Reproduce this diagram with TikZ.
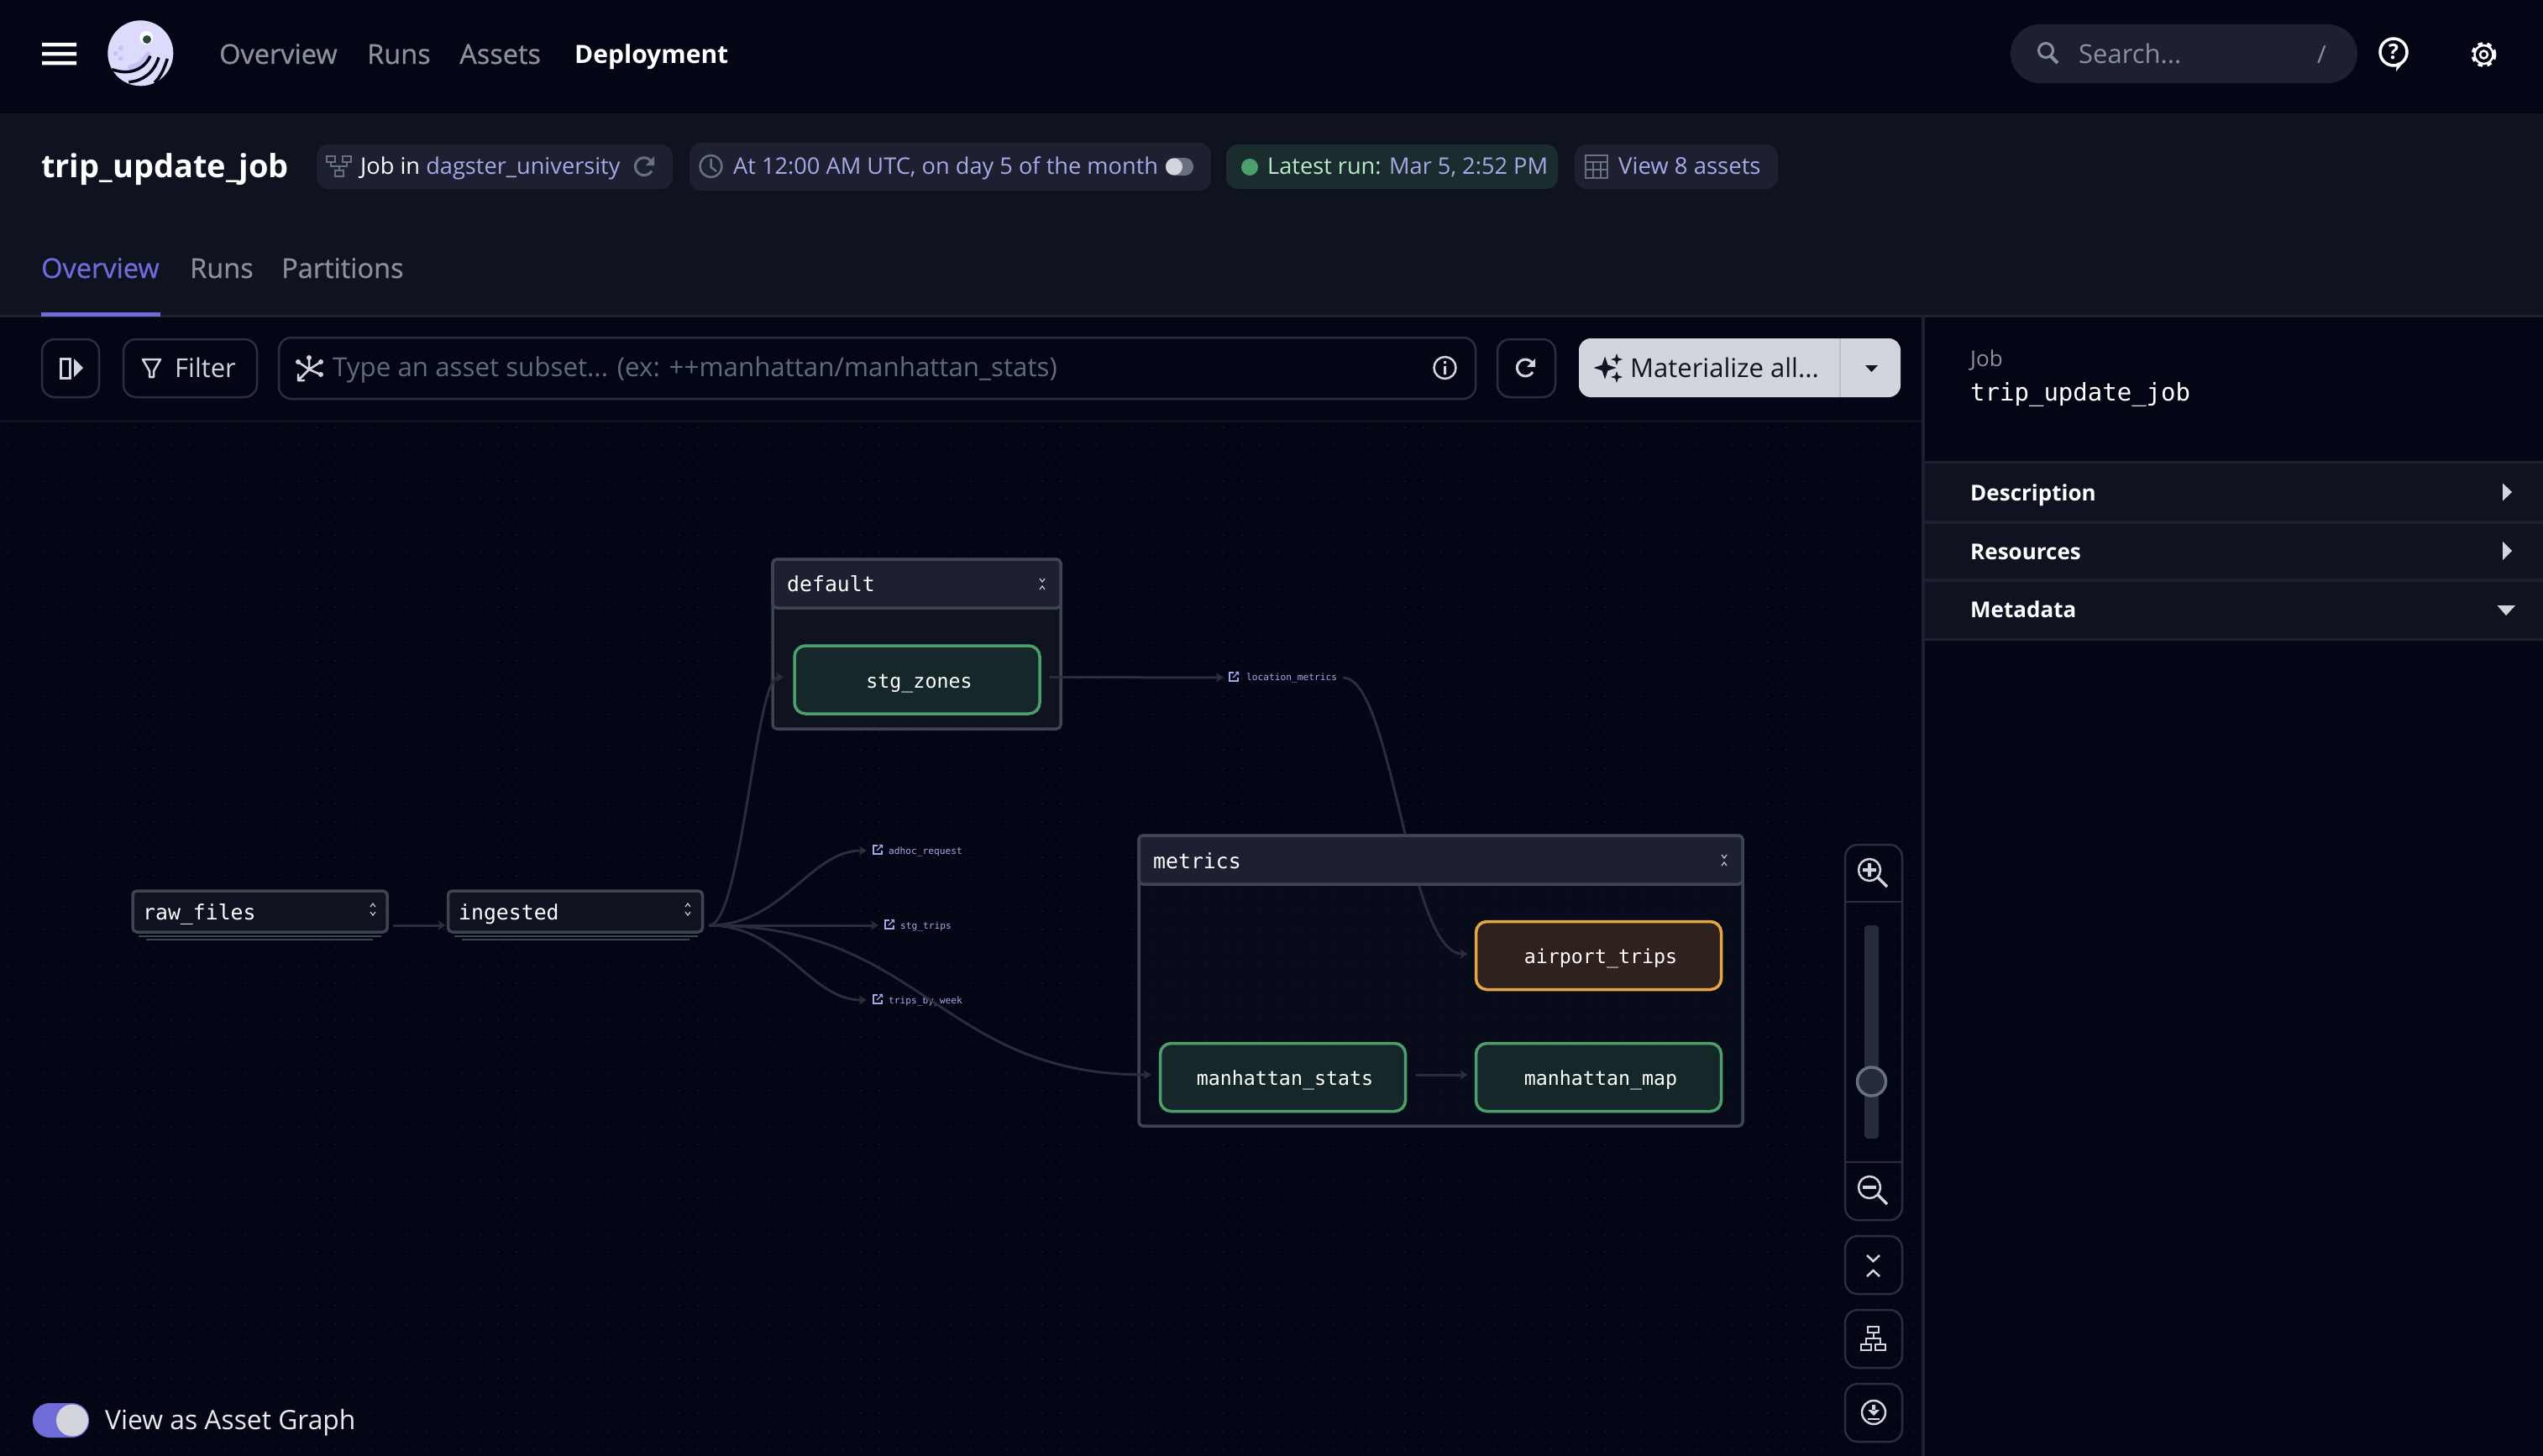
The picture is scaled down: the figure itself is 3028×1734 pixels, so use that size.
\documentclass[tikz,border=0pt]{standalone}
\usepackage{fontspec}
\usetikzlibrary{arrows.meta}
\newfontfamily\uifont{Open Sans}
\newfontfamily\uimedium[FakeBold=0.8]{Open Sans}
\newfontfamily\uibold{Open Sans}
\newfontfamily\monofont{DejaVu Sans Mono}
\newcommand{\px}[1]{\fontsize{#1pt}{#1pt}\selectfont}
\definecolor{pagebg}{HTML}{030615}
\definecolor{headbg}{HTML}{0F1320}
\definecolor{pillbg}{HTML}{1C2030}
\definecolor{greenbg}{HTML}{1B2C2E}
\definecolor{linecol}{HTML}{2B2F3D}
\definecolor{boxline}{HTML}{3E4452}
\definecolor{edgecol}{HTML}{2A2D3B}
\definecolor{griddot}{HTML}{10142A}
\definecolor{lilac}{HTML}{A9A8E6}
\definecolor{mintcol}{HTML}{B9EBC8}
\definecolor{navgrey}{HTML}{8A909C}
\definecolor{hintgrey}{HTML}{626A79}
\definecolor{icongrey}{HTML}{697181}
\definecolor{paper}{HTML}{D2D5DC}
\definecolor{inkdark}{HTML}{111522}
\definecolor{accent}{HTML}{6F6BD8}
\definecolor{okline}{HTML}{4E9F6E}
\definecolor{okfill}{HTML}{16272A}
\definecolor{warnline}{HTML}{E4A646}
\definecolor{warnfill}{HTML}{2E211E}
\definecolor{logolight}{HTML}{DCDBFB}
\definecolor{logomid}{HTML}{C5C3F5}
\tikzset{
  uitext/.style={anchor=base west,inner sep=0pt,font=\uifont\px{#1}},
  navtext/.style={anchor=base west,inner sep=0pt,font=\uimedium\px{#1}},
  boldtext/.style={anchor=base west,inner sep=0pt,text=white,font=\uibold\bfseries\px{#1}},
  monotext/.style={anchor=base west,inner sep=0pt,text=white,font=\monofont\px{#1}},
  pill/.style={fill=#1,rounded corners=14pt},
  toolbtn/.style={draw=linecol,line width=2.5pt,rounded corners=15pt},
  iconline/.style={draw=#1,line width=2.5pt,line cap=round,line join=round},
  asset/.style={draw=#1,line width=3.5pt,rounded corners=13pt,minimum width=292pt,minimum height=81pt,
    text=white,font=\monofont\px{23.3},text height=22pt,text depth=3pt,inner sep=0pt,
    execute at begin node=\hspace*{5pt}},
  fresh/.style={asset=okline,fill=okfill},
  stale/.style={asset=warnline,fill=warnfill},
  groupbody/.style={draw=boxline,line width=3.5pt,rounded corners=5pt,fill=headbg,fill opacity=#1},
  grouphead/.style={draw=boxline,line width=3.5pt,rounded corners=5pt,fill=pillbg},
  opbox/.style={draw=boxline,line width=3.5pt,rounded corners=5pt,fill=headbg,minimum width=303pt,
    minimum height=49pt,inner sep=0pt},
  assetlink/.style={anchor=west,inner sep=0pt,text=lilac,font=\monofont\px{11.2},text height=8pt,text depth=2pt},
  edge/.style={draw=edgecol,line width=3pt,-{Stealth[length=9pt,width=11pt,inset=2pt]}},
  link/.style={out=0,in=180,out distance=#1,in distance=#1},
}
\newcommand{\openmark}[2]{
  \draw[white!80!black,line width=1.2pt] (#1-3,#2+4) -- (#1,#2) -- (#1+3,#2+4);
  \draw[white!80!black,line width=1.2pt] (#1-3,#2+10) -- (#1,#2+14) -- (#1+3,#2+10);
}
\newcommand{\closemark}[2]{
  \draw[white!80!black,line width=1.2pt] (#1-3,#2) -- (#1,#2+4) -- (#1+3,#2);
  \draw[white!80!black,line width=1.2pt] (#1-3,#2+13) -- (#1,#2+9) -- (#1+3,#2+13);
}
\newcommand{\sparkle}[3]{
  \fill[inkdark,shift={(#1,#2)}] (-#3,0) -- (-.25*#3,-.25*#3) -- (0,-#3) -- (.25*#3,-.25*#3) -- (#3,0)
    -- (.25*#3,.25*#3) -- (0,#3) -- (-.25*#3,.25*#3) -- cycle;
}
\newcommand{\linkicon}[2]{
  \draw[lilac,line width=1.1pt] (#1+5,#2-5) -- (#1,#2-5) -- (#1,#2+5) -- (#1+10,#2+5) -- (#1+10,#2+1);
  \draw[lilac,line width=1.1pt] (#1+4,#2+1) -- (#1+10,#2-5) (#1+7,#2-5.5) -- (#1+10.5,#2-5.5) -- (#1+10.5,#2-2);
}
\newcommand{\magnifier}[2]{
  \draw[paper,line width=2.5pt] (#1,#2) circle (13);
  \draw[paper,line width=3.5pt] (#1+10,#2+9) -- (#1+21,#2+20);
}
\begin{document}
\begin{tikzpicture}[x=1pt,y=-1pt]
  \useasboundingbox (0,0) rectangle (3028,1734);
  \fill[pagebg] (0,0) rectangle (3028,1734);
  \fill[headbg] (0,135) rectangle (3028,376);
  \fill[pillbg] (0,375) rectangle (3028,378);

  \foreach \row in {0,...,57}
    \draw[griddot,line width=2pt,dash pattern=on 2pt off 19.6pt] (9,509+21.35*\row) -- (2286,509+21.35*\row);
  \fill[headbg] (0,500) rectangle (2288,503);

  \fill[white] (50,51) rectangle (91,55.5) (50,62) rectangle (91,66.5) (50,73) rectangle (91,77.5);

  \begin{scope}[shift={(40,15)},x=.3333pt,y=-.3333pt]
    \fill[logolight] (382,145) circle (39pt);
    \draw[logomid,line width=6pt,line cap=round] (345,195) .. controls (385,190) and (395,165) .. (410,148);
    \draw[pagebg,line width=3.5pt] (280,203) .. controls (340,225) and (395,205) .. (417,155);
    \draw[pagebg,line width=3.5pt] (340,248) .. controls (390,245) and (430,215) .. (447,160);
    \draw[pagebg,line width=3.5pt] (432,250) .. controls (455,230) and (468,195) .. (478,165);
    \fill[logomid] (311,127) circle (3pt) (293,146) circle (3pt) (311,164) circle (3pt);
    \fill[white] (403,90) circle (8pt);
    \fill[okfill!70!okline] (405,96) circle (5pt);
  \end{scope}

  \node[navtext=32.5,text=navgrey] (navoverview) at (261,76) {Overview};
  \node[navtext=32.5,text=navgrey] (navruns) at (437,76) {Runs};
  \node[navtext=32.5,text=navgrey] (navassets) at (547,76) {Assets};
  \node[boldtext=30] (navdeploy) at (684,76) {Deployment};

  \fill[pill=pillbg,rounded corners=35pt] (2394,29) rectangle (2807,99);
  \draw[navgrey,line width=3pt] (2436,60) circle (8.5);
  \draw[navgrey,line width=4pt] (2442,67) -- (2450,75);
  \node[uitext=31,text=navgrey] (searchtext) at (2475,76) {Search...};
  \node[uitext=29,text=navgrey] (searchkey) at (2759,76) {/};
  \draw[white,line width=3.5pt] (2850,62) circle (16);
  \fill[white] (2854,75) -- (2863,73) -- (2853,85) -- cycle;
  \node[anchor=center,inner sep=0pt,text=white,font=\uibold\bfseries\px{25}] (helpmark) at (2850,62) {?};
  \draw[white,line width=4pt,dash pattern=on 5.5pt off 5.3pt] (2957.5,65) circle (13);
  \draw[white,line width=2.5pt] (2957.5,65) circle (11);
  \draw[white,line width=2.5pt] (2957.5,65) circle (4.5);

  \node[boldtext=38] (jobtitle) at (49,211) {trip\_update\_job};

  \fill[pill=pillbg] (377,172) rectangle (801,225);
  \draw[icongrey,line width=2.5pt] (389,186) rectangle (399,193) (408,186) rectangle (418,193) (399,203) rectangle (409,210);
  \draw[icongrey,line width=2.5pt] (394,193) -- (394,198) -- (413,198) -- (413,193) (404,198) -- (404,203);
  \node[uitext=27.2,text=white] (jobin) at (429,207) {Job in \textcolor{lilac}{dagster\_university}};
  \draw[icongrey,line width=3pt] (776,193) arc (-30:-330:10.5) ;
  \fill[icongrey] (779,186) -- (779,197) -- (769,197) -- cycle;

  \fill[pill=pillbg] (821,170) rectangle (1442,227);
  \draw[icongrey,line width=2.5pt] (846.5,198) circle (13);
  \draw[icongrey,line width=2.5pt] (846.5,189) -- (846.5,199) -- (853,204);
  \node[uitext=27.2,text=lilac] (schedule) at (873,207) {At 12:00 AM UTC, on day 5 of the month};
  \fill[icongrey,rounded corners=10pt] (1388,188) rectangle (1421,209);
  \fill[paper] (1398,198.5) circle (10);

  \fill[pill=greenbg] (1460,172) rectangle (1855,225);
  \fill[okline] (1488,199) circle (10);
  \node[uitext=27.2,text=mintcol] (latestrun) at (1509,207) {Latest run: \textcolor{lilac}{Mar 5, 2:52 PM}};

  \fill[pill=pillbg] (1875,172) rectangle (2117,225);
  \draw[icongrey,line width=2.5pt] (1888,185) rectangle (1914,212);
  \draw[icongrey,line width=2pt] (1888,193) -- (1914,193) (1888,202) -- (1914,202) (1897,193) -- (1897,212) (1905.5,193) -- (1905.5,212);
  \node[uitext=27.5,text=lilac] (viewassets) at (1927,207) {View 8 assets};

  \node[navtext=32.5,text=accent] (taboverview) at (49,331) {Overview};
  \node[navtext=32.5,text=navgrey] (tabruns) at (226,331) {Runs};
  \node[navtext=32.5,text=navgrey] (tabpartitions) at (335,331) {Partitions};
  \fill[accent] (49,372) rectangle (191,377);

  \draw[toolbtn] (50,404) rectangle (118,473);
  \draw[paper,line width=3pt] (72,427) rectangle (83,450);
  \fill[paper] (88,427) -- (99,438) -- (88,449) -- cycle;

  \draw[toolbtn] (147,404) rectangle (306,473);
  \draw[iconline=paper] (170,428) -- (191,428) -- (183,442) -- (183,449) -- (178,449) -- (178,442) -- cycle;
  \node[uitext=31,text=paper] (filterlabel) at (208,449) {Filter};

  \draw[toolbtn] (332,402) rectangle (1757,475);
  \draw[iconline=paper] (368,440) -- (368,426) (368,440) -- (382,431) (368,440) -- (355,431) (368,440) -- (382,446) (368,440) -- (355,453) (355,446) -- (355,453) -- (362,453);
  \fill[paper] (368,426) circle (3) (382,431) circle (3) (355,431) circle (3) (382,446) circle (3);
  \node[uitext=31.3,text=hintgrey] (subsethint) at (396,448) {Type an asset subset... (ex: ++manhattan/manhattan\_stats)};
  \draw[paper,line width=2.5pt] (1720.5,438) circle (13);
  \fill[paper] (1719,436) rectangle (1722,446) (1719,430) rectangle (1722,433);

  \draw[toolbtn] (1783,404) rectangle (1852,473);
  \draw[paper,line width=3pt] (1825,433) arc (-30:-330:10) ;
  \fill[paper] (1828,427) -- (1828,437) -- (1818,437) -- cycle;

  \fill[pill=paper] (1880,403) rectangle (2263,473);
  \fill[boxline!15!paper] (2190,403) rectangle (2192,473);
  \sparkle{1911}{438}{13.5}
  \sparkle{1925}{428}{7}
  \sparkle{1925}{449}{7}
  \node[uitext=31,text=inkdark] (materialize) at (1941,449) {Materialize all...};
  \fill[inkdark] (2221,435) -- (2236,435) -- (2228.5,443) -- cycle;

  \fill[pagebg] (2289,378) rectangle (3028,1734);
  \fill[pillbg] (2288,378) rectangle (2292,1734);
  \node[uitext=26,text=navgrey] (sidekind) at (2346,436) {Job};
  \node[monotext=29,text=white] (sidetitle) at (2346,477) {trip\_update\_job};
  \fill[headbg] (2292,550) rectangle (3028,761);
  \fill[pillbg] (2292,549) rectangle (3028,552) (2292,620) rectangle (3028,624) (2292,689) rectangle (3028,693) (2292,760) rectangle (3028,763);
  \node[boldtext=26] (sidedesc) at (2346,596) {Description};
  \node[boldtext=26] (sideres) at (2346,666) {Resources};
  \node[boldtext=26] (sidemeta) at (2346,735) {Metadata};
  \fill[paper] (2980,575.5) -- (2991,586) -- (2980,596.5) -- cycle;
  \fill[paper] (2980,645) -- (2991,656) -- (2980,667) -- cycle;
  \fill[paper] (2973.5,721) -- (2995,721) -- (2984,733) -- cycle;

  \node[groupbody=1,minimum width=343pt,minimum height=202pt,inner sep=0pt] (defaultgroup) at (1091.5,767) {};
  \node[groupbody=.45,minimum width=719pt,minimum height=346pt,inner sep=0pt] (metricsgroup) at (1715.5,1168) {};

  \node[opbox] (rawfiles) at (309.5,1085.5) {};
  \node[opbox] (ingested) at (685,1085.5) {};
  \draw[boxline,line width=2pt] (165,1115) -- (454,1115) (174,1118.5) -- (444,1118.5);
  \draw[boxline,line width=2pt] (541,1115) -- (831,1115) (550,1118.5) -- (821,1118.5);
  \node[monotext=24.8] (rawfileslabel) at (170,1095) {raw\_files};
  \node[monotext=24.8] (ingestedlabel) at (546,1095) {ingested};
  \openmark{444}{1076}
  \openmark{819}{1076}

  \node[fresh] (stgzones) at (1092,809.5) {stg\_zones};
  \node[stale] (airporttrips) at (1903.5,1138) {airport\_trips};
  \node[fresh] (manhattanstats) at (1527.5,1283) {manhattan\_stats};
  \node[fresh] (manhattanmap) at (1903.5,1283) {manhattan\_map};

  \node[assetlink] (adhocrequest) at (1058,1014) {adhoc\_request};
  \node[assetlink] (stgtrips) at (1072,1103) {stg\_trips};
  \node[assetlink] (tripsbyweek) at (1058,1192) {trips\_by\_week};
  \node[assetlink] (locationmetrics) at (1484,807) {location\_metrics};
  \linkicon{1040}{1012}
  \linkicon{1054}{1101}
  \linkicon{1040}{1190}
  \linkicon{1464}{806}

  \draw[edge,shorten <=5pt,shorten >=1pt] ([yshift=-16.5pt]rawfiles.east) to ([yshift=-16.5pt]ingested.west);
  \draw[edge,shorten <=6pt,shorten >=11pt] ([yshift=-16.5pt]ingested.east) to[link=45pt] ([yshift=3pt]stgzones.west);
  \draw[edge,shorten <=6pt,shorten >=26pt] ([yshift=-16.5pt]ingested.east) to[link=94pt] ([yshift=1pt]adhocrequest.west);
  \draw[edge,shorten <=6pt,shorten >=26pt] ([yshift=-16.5pt]ingested.east) to ([yshift=1pt]stgtrips.west);
  \draw[edge,shorten <=6pt,shorten >=26pt] ([yshift=-16.5pt]ingested.east) to[link=94pt] ([yshift=1pt]tripsbyweek.west);
  \draw[edge,shorten <=6pt,shorten >=9pt] ([yshift=-16.5pt]ingested.east) to[link=263pt] ([yshift=3pt]manhattanstats.west);
  \draw[edge,shorten <=10pt,shorten >=27pt] ([yshift=3pt]stgzones.east) to (locationmetrics.west);
  \draw[edge,shorten <=7pt,shorten >=8pt] (locationmetrics.east) to[out=0,in=180,out distance=66pt,in distance=80pt] ([yshift=2pt]airporttrips.west);
  \draw[edge,shorten <=11pt,shorten >=8pt] ([yshift=3pt]manhattanstats.east) to ([yshift=3pt]manhattanmap.west);

  \node[grouphead,minimum width=343pt,minimum height=58pt,inner sep=0pt] (defaulthead) at (1091.5,695) {};
  \node[grouphead,minimum width=719pt,minimum height=58pt,inner sep=0pt] (metricshead) at (1715.5,1024) {};
  \node[monotext=24.8] (defaultlabel) at (937,704) {default};
  \node[monotext=24.8] (metricslabel) at (1373,1034) {metrics};
  \closemark{1241}{689}
  \closemark{2053}{1018}

  \draw[toolbtn] (2197,1006) rectangle (2265,1453);
  \draw[linecol,line width=2pt] (2197,1074) -- (2265,1074) (2197,1384) -- (2265,1384);
  \magnifier{2226}{1036}
  \fill[paper] (2224,1028) rectangle (2228,1044) (2218,1034) rectangle (2234,1038);
  \fill[pillbg!70!boxline,rounded corners=4pt] (2220,1102) rectangle (2237,1356);
  \draw[icongrey,fill=pillbg!70!boxline,line width=3.5pt] (2228.5,1288) circle (17);
  \magnifier{2226}{1414}
  \fill[paper] (2218,1412) rectangle (2234,1416);

  \draw[toolbtn] (2197,1472) rectangle (2265,1541);
  \draw[paper,line width=2.5pt] (2223,1495) -- (2230.5,1502) -- (2238,1495) (2223,1520) -- (2230.5,1513) -- (2238,1520);

  \draw[toolbtn] (2197,1560) rectangle (2265,1629);
  \draw[paper,line width=2pt] (2224,1580) rectangle (2237,1587) (2216,1601) rectangle (2228,1608) (2233,1601) rectangle (2245,1608);
  \draw[paper,line width=2pt] (2230.5,1587) -- (2230.5,1594) (2222,1601) -- (2222,1594) -- (2239,1594) -- (2239,1601);

  \draw[toolbtn] (2197,1648) rectangle (2265,1717);
  \draw[paper,line width=2.5pt] (2231,1682) circle (14);
  \draw[paper,line width=2.5pt] (2224,1690) -- (2238,1690);
  \fill[paper] (2229,1673) rectangle (2233,1680) (2224,1679) -- (2238,1679) -- (2231,1686) -- cycle;

  \fill[accent,rounded corners=20pt] (39,1671) rectangle (106,1712);
  \fill[paper] (86,1691.5) circle (19);
  \node[uitext=31.8,text=white!92!black] (assetgraph) at (125,1702) {View as Asset Graph};
\end{tikzpicture}
\end{document}
